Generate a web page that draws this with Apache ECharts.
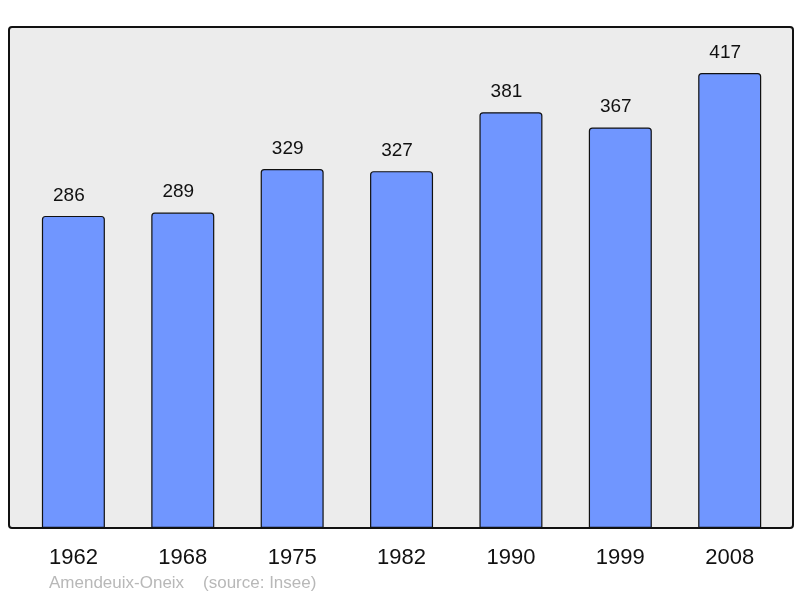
<!DOCTYPE html>
<html>
<head>
<meta charset="utf-8">
<script src="https://cdn.jsdelivr.net/npm/echarts@6/dist/echarts.min.js"></script>
<style>
  html, body { margin: 0; padding: 0; background: #fff; }
  #chart { width: 800px; height: 598px; }
</style>
</head>
<body>
<div id="chart"></div>
<script>
const years = ['1962', '1968', '1975', '1982', '1990', '1999', '2008']
const population = [286, 289, 329, 327, 381, 367, 417]
const footer = 'Amendeuix-Oneix    (source: Insee)'

const chart = echarts.init(document.getElementById('chart'))

const option = {
  animation: false,
  backgroundColor: '#fff',
  textStyle: { fontFamily: 'Liberation Sans, Arial, sans-serif' },
  grid: { left: 18.7, width: 765.7, top: 26, bottom: 70 },
  graphic: [
    {
      type: 'rect',
      z: 0,
      silent: true,
      shape: { x: 9, y: 27, width: 784, height: 501, r: 3 },
      style: { fill: '#ececec', stroke: '#111', lineWidth: 2 }
    },
    {
      type: 'text',
      left: 49,
      top: 575,
      style: {
        text: footer,
        fill: '#b8b8b8',
        font: '17px Liberation Sans, Arial, sans-serif'
      }
    }
  ],
  xAxis: {
    type: 'category',
    data: years,
    axisLine: { show: false },
    axisTick: { show: false },
    axisLabel: { color: '#111', fontSize: 22, margin: 19 }
  },
  yAxis: {
    type: 'value',
    min: 0,
    max: 460,
    show: false,
    splitLine: { show: false }
  },
  series: [{
    type: 'bar',
    data: population,
    barWidth: 63,
    z: 2,
    itemStyle: {
      color: '#7096ff',
      borderColor: '#111',
      borderWidth: 1.2,
      borderRadius: [3, 3, 0, 0]
    },
    label: {
      show: true,
      position: 'top',
      distance: 11,
      offset: [-4.5, 0],
      color: '#111',
      fontSize: 19
    }
  }]
}

chart.setOption(option)
</script>
</body>
</html>
